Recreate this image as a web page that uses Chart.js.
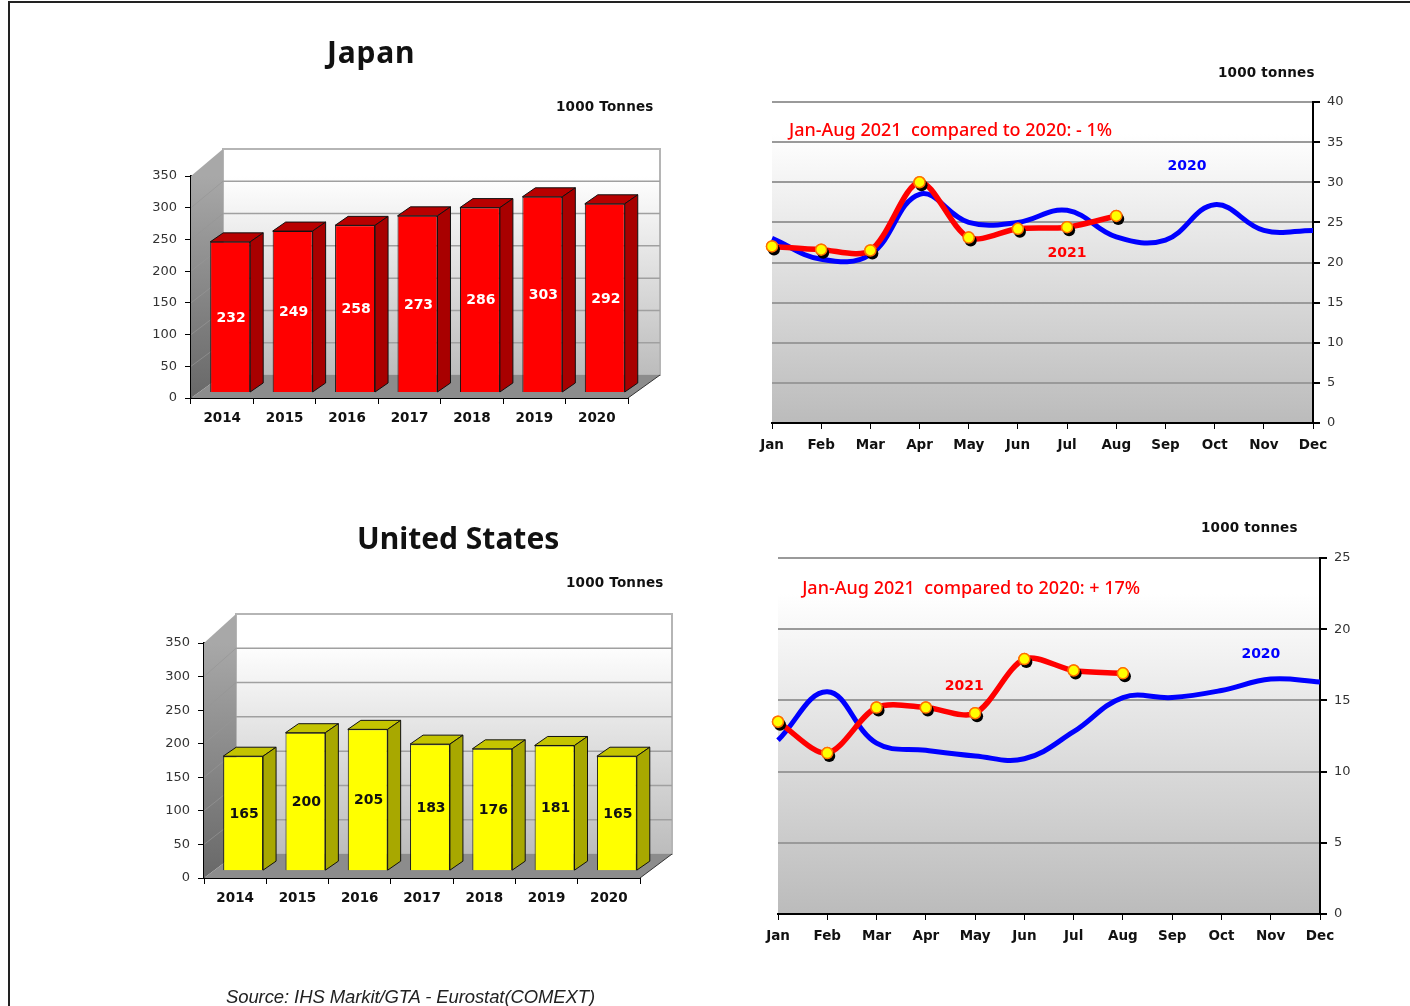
<!DOCTYPE html>
<html>
<head>
<meta charset="utf-8">
<script src="https://cdn.jsdelivr.net/npm/chart.js@4"></script>
<style>
html, body { margin: 0; padding: 0; background: #fff; overflow: hidden; }
#page { position: relative; width: 1410px; height: 1006px; overflow: hidden; filter: blur(0.5px); }
#frame { position: absolute; left: 8px; top: 1px; width: 1500px; height: 1200px; border: 2px solid #222; }
canvas { position: absolute; }
.txt { position: absolute; white-space: nowrap; color: #111; }
.title { font: 700 30px/36px "Noto Sans", sans-serif; }
.unit { font: 700 13.5px/18px "DejaVu Sans", sans-serif; letter-spacing: 0.2px; }
</style>
</head>
<body>
<div id="page">
  <div id="frame"></div>
  <div class="txt title" style="left:327px;top:34px;letter-spacing:0.8px">Japan</div>
  <div class="txt unit" style="left:556px;top:97px">1000 Tonnes</div>
  <div class="txt unit" style="left:1218px;top:63px">1000 tonnes</div>
  <div class="txt title" style="left:357px;top:520px">United States</div>
  <div class="txt unit" style="left:566px;top:573px">1000 Tonnes</div>
  <div class="txt unit" style="left:1201px;top:518px">1000 tonnes</div>
  <div class="txt" style="left:226px;top:986px;font:italic 18.5px 'Liberation Sans',sans-serif;letter-spacing:-0.1px;color:#222">Source: IHS Markit/GTA - Eurostat(COMEXT)</div>
  <canvas id="barJapan" style="left:140px;top:130px" width="540" height="300"></canvas>
  <canvas id="lineJapan" style="left:740px;top:82px" width="630" height="378"></canvas>
  <canvas id="barUS" style="left:150px;top:601px" width="540" height="310"></canvas>
  <canvas id="lineUS" style="left:740px;top:538px" width="630" height="412"></canvas>
</div>
<script>
const years = ['2014', '2015', '2016', '2017', '2018', '2019', '2020'];
const months = ['Jan', 'Feb', 'Mar', 'Apr', 'May', 'Jun', 'Jul', 'Aug', 'Sep', 'Oct', 'Nov', 'Dec'];

const japanYearly = [232, 249, 258, 273, 286, 303, 292];
const usYearly = [165, 200, 205, 183, 176, 181, 165];

const japan2020 = [23, 20.4, 21, 28.5, 25, 25, 26.5, 23.2, 22.8, 27.2, 24, 24];
const japan2021 = [22, 21.6, 21.5, 30, 23.1, 24.2, 24.4, 25.8];
const us2020 = [12.2, 15.6, 12, 11.5, 11.1, 10.9, 12.8, 15.2, 15.2, 15.7, 16.5, 16.3];
const us2021 = [13.5, 11.3, 14.5, 14.5, 14.1, 17.9, 17.1, 16.9];

const tickFont = { family: 'DejaVu Sans', size: 13 };
const catFont = { family: 'DejaVu Sans', size: 13.5, weight: '700' };

// back wall, side wall, floor and the extruded bars
const box3d = {
    id: 'box3d',
    beforeDatasetsDraw(chart) {
        const { ctx, chartArea: a, scales: { y } } = chart;
        const opt = chart.options.plugins.box3d;
        const dx = 32;
        const dyAt = v => opt.dyFloor + (opt.dyTop - opt.dyFloor) * v / 350;
        const top = y.getPixelForValue(350), bottom = y.getPixelForValue(0);
        const wallTop = top - opt.dyTop, wallBottom = bottom - opt.dyFloor;
        ctx.save();
        // back wall
        const wall = ctx.createLinearGradient(0, wallTop, 0, wallBottom);
        wall.addColorStop(0, '#ffffff');
        wall.addColorStop(0.12, '#ffffff');
        wall.addColorStop(1, '#bcbcbc');
        ctx.fillStyle = wall;
        ctx.fillRect(a.left + dx, wallTop, a.right - a.left, wallBottom - wallTop);
        ctx.strokeStyle = '#b5b5b5';
        ctx.lineWidth = 2;
        ctx.strokeRect(a.left + dx, wallTop, a.right - a.left, wallBottom - wallTop);
        // side wall
        const side = ctx.createLinearGradient(0, top, 0, bottom);
        side.addColorStop(0, '#a8a8a8');
        side.addColorStop(1, '#686868');
        ctx.fillStyle = side;
        ctx.beginPath();
        ctx.moveTo(a.left, top);
        ctx.lineTo(a.left + dx, wallTop);
        ctx.lineTo(a.left + dx, wallBottom);
        ctx.lineTo(a.left, bottom);
        ctx.closePath();
        ctx.fill();
        // grid on wall
        y.ticks.forEach(t => {
            const py = y.getPixelForValue(t.value);
            const d = dyAt(t.value);
            if (t.value === 0 || t.value === 350) return;
            ctx.strokeStyle = '#a0a0a0';
            ctx.lineWidth = 1.5;
            ctx.beginPath();
            ctx.moveTo(a.left + dx, py - d);
            ctx.lineTo(a.right + dx, py - d);
            ctx.stroke();
            ctx.strokeStyle = 'rgba(150,150,150,0.7)';
            ctx.lineWidth = 1;
            ctx.beginPath();
            ctx.moveTo(a.left, py);
            ctx.lineTo(a.left + dx, py - d);
            ctx.stroke();
        });
        // floor
        ctx.fillStyle = '#8c8c8c';
        ctx.beginPath();
        ctx.moveTo(a.left, bottom);
        ctx.lineTo(a.right, bottom);
        ctx.lineTo(a.right + dx, wallBottom);
        ctx.lineTo(a.left + dx, wallBottom);
        ctx.closePath();
        ctx.fill();
        ctx.strokeStyle = '#333';
        ctx.lineWidth = 1;
        ctx.beginPath();
        ctx.moveTo(a.right, bottom);
        ctx.lineTo(a.right + dx, wallBottom);
        ctx.stroke();
        ctx.restore();
    },
    beforeDatasetDraw(chart) {
        const { ctx } = chart;
        const opt = chart.options.plugins.box3d;
        ctx.save();
        ctx.translate(8, opt.lift);
        chart.getDatasetMeta(0).data.forEach(bar => {
            const p = bar.getProps(['x', 'y', 'base', 'width']);
            const l = p.x - p.width / 2, r = p.x + p.width / 2;
            const ddx = 13, ddy = 9;
            ctx.strokeStyle = '#111';
            ctx.lineWidth = 1;
            ctx.fillStyle = opt.top;
            ctx.beginPath();
            ctx.moveTo(l, p.y);
            ctx.lineTo(l + ddx, p.y - ddy);
            ctx.lineTo(r + ddx, p.y - ddy);
            ctx.lineTo(r, p.y);
            ctx.closePath();
            ctx.fill();
            ctx.stroke();
            ctx.fillStyle = opt.side;
            ctx.beginPath();
            ctx.moveTo(r, p.y);
            ctx.lineTo(r + ddx, p.y - ddy);
            ctx.lineTo(r + ddx, p.base - ddy);
            ctx.lineTo(r, p.base);
            ctx.closePath();
            ctx.fill();
            ctx.stroke();
        });
    },
    afterDatasetDraw(chart) {
        const { ctx } = chart;
        const opt = chart.options.plugins.box3d;
        // value labels, still in the shifted frame
        chart.getDatasetMeta(0).data.forEach((bar, i) => {
            const p = bar.getProps(['x', 'y', 'base']);
            ctx.font = '700 14px "DejaVu Sans"';
            ctx.textAlign = 'center';
            ctx.textBaseline = 'middle';
            ctx.fillStyle = opt.label;
            ctx.fillText(chart.data.datasets[0].data[i], p.x + 1, (p.y + p.base) / 2 + 1);
        });
        ctx.restore();
    }
};

function barChart(id, values, fill, topColor, sideColor, labelColor, dyTop, dyFloor, lift, pad) {
    return new Chart(document.getElementById(id), {
        type: 'bar',
        data: {
            labels: years,
            datasets: [{
                data: values,
                base: -4.7,
                clip: false,
                backgroundColor: fill,
                borderColor: '#111',
                borderWidth: 1,
                barPercentage: 0.64,
                categoryPercentage: 1
            }]
        },
        options: {
            responsive: false,
            animation: false,
            layout: { padding: pad },
            plugins: {
                legend: { display: false },
                tooltip: { enabled: false },
                box3d: { top: topColor, side: sideColor, label: labelColor, dyTop: dyTop, dyFloor: dyFloor, lift: lift }
            },
            scales: {
                x: {
                    afterFit(s) { s.height = pad.xh; },
                    grid: { drawOnChartArea: false, tickColor: '#000', tickLength: 6, offset: true },
                    border: { color: '#000', width: 2 },
                    ticks: { color: '#111', font: catFont, padding: 6 }
                },
                y: {
                    min: 0,
                    max: 350,
                    afterFit(s) { s.width = pad.yw; },
                    grid: { drawOnChartArea: false, tickColor: '#000', tickLength: 6 },
                    border: { color: '#000', width: 2 },
                    ticks: { stepSize: 50, color: '#333', font: tickFont, padding: 8 }
                }
            }
        },
        plugins: [box3d]
    });
}

// plot background, marker shadows and the notes inside the plot
const plotExtras = {
    id: 'plotExtras',
    beforeDraw(chart) {
        const { ctx, chartArea: a } = chart;
        const g = ctx.createLinearGradient(0, a.top, 0, a.bottom);
        g.addColorStop(0, '#ffffff');
        g.addColorStop(0.1, '#ffffff');
        g.addColorStop(1, '#bbbbbb');
        ctx.save();
        ctx.fillStyle = g;
        ctx.fillRect(a.left, a.top, a.right - a.left, a.bottom - a.top);
        ctx.restore();
    },
    afterDatasetDraw(chart, args) {
        if (args.index !== 0) return;
        const { ctx } = chart;
        const pts = chart.getDatasetMeta(0).data;
        ctx.save();
        pts.forEach(p => {
            ctx.fillStyle = '#000';
            ctx.beginPath();
            ctx.arc(p.x + 2, p.y + 3, 6, 0, Math.PI * 2);
            ctx.fill();
        });
        pts.forEach(p => p.draw(ctx));
        ctx.restore();
    },
    afterDraw(chart) {
        const { ctx, scales: { x, y } } = chart;
        ctx.save();
        chart.options.plugins.plotExtras.notes.forEach(n => {
            ctx.font = n.font;
            ctx.fillStyle = n.color;
            ctx.textAlign = 'center';
            ctx.textBaseline = 'middle';
            ctx.fillText(n.text, x.getPixelForValue(n.at) , y.getPixelForValue(n.val));
        });
        ctx.restore();
    }
};

function lineChart(id, y2020, y2021, yMax, yStep, notes, pad) {
    return new Chart(document.getElementById(id), {
        type: 'line',
        data: {
            labels: months,
            datasets: [
                {
                    label: '2021',
                    data: y2021,
                    borderColor: '#ff0000',
                    borderWidth: 5.5,
                    tension: 0.3,
                    clip: false,
                    pointRadius: 5.5,
                    pointBackgroundColor: '#ffff00',
                    pointBorderColor: '#ff7000',
                    pointBorderWidth: 1.5
                },
                {
                    label: '2020',
                    data: y2020,
                    borderColor: '#0000ff',
                    borderWidth: 5,
                    tension: 0.4,
                    pointRadius: 0
                }
            ]
        },
        options: {
            responsive: false,
            animation: false,
            layout: { padding: pad },
            plugins: {
                legend: { display: false },
                tooltip: { enabled: false },
                plotExtras: { notes: notes }
            },
            scales: {
                x: {
                    offset: false,
                    afterFit(s) { s.height = pad.xh; },
                    grid: { drawOnChartArea: false, tickColor: '#000', tickLength: 6 },
                    border: { color: '#000', width: 2 },
                    ticks: { color: '#111', font: catFont, padding: 8, maxRotation: 0, autoSkip: false }
                },
                y: {
                    position: 'right',
                    min: 0,
                    max: yMax,
                    afterFit(s) { s.width = pad.yw; },
                    grid: { color: '#9a9a9a', lineWidth: 2, tickColor: '#000', tickLength: 7 },
                    border: { color: '#000', width: 2 },
                    ticks: { stepSize: yStep, color: '#333', font: tickFont, padding: 7 }
                }
            }
        },
        plugins: [plotExtras]
    });
}

const noteFont = '500 18px "Noto Sans"';
const yearFont = '700 14px "DejaVu Sans"';

barChart('barJapan', japanYearly, '#ff0000', '#b80000', '#a80000', '#ffffff', 27, 23, -9,
    { top: 46, right: 52, left: 0, bottom: 0, xh: 32, yw: 51 });
barChart('barUS', usYearly, '#ffff00', '#c4c400', '#a8a800', '#111111', 29, 24, -11,
    { top: 42, right: 50, left: 0, bottom: 0, xh: 33, yw: 54 });

lineChart('lineJapan', japan2020, japan2021, 40, 5, [
    { text: 'Jan-Aug 2021  compared to 2020: - 1%', at: 3.63, val: 36.4, font: noteFont, color: '#ff0000' },
    { text: '2020', at: 8.44, val: 32, font: yearFont, color: '#0000ff' },
    { text: '2021', at: 6, val: 21.2, font: yearFont, color: '#ff0000' }
], { top: 20, right: 0, left: 32, bottom: 0, xh: 37, yw: 57 });

lineChart('lineUS', us2020, us2021, 25, 5, [
    { text: 'Jan-Aug 2021  compared to 2020: + 17%', at: 3.92, val: 22.8, font: noteFont, color: '#ff0000' },
    { text: '2020', at: 9.8, val: 18.2, font: yearFont, color: '#0000ff' },
    { text: '2021', at: 3.78, val: 16, font: yearFont, color: '#ff0000' }
], { top: 20, right: 0, left: 38, bottom: 0, xh: 36, yw: 50 });
</script>
</body>
</html>
